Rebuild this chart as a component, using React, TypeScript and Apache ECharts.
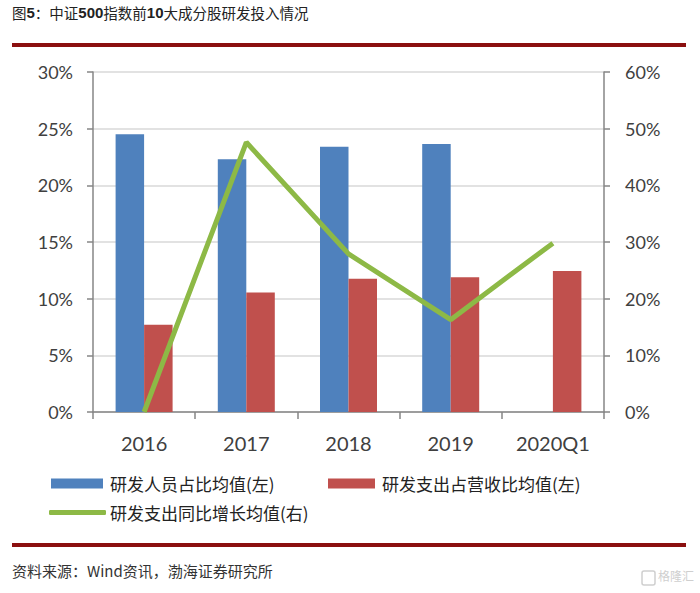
import React, { useEffect, useRef } from "react";
import * as echarts from "echarts";

const categories = ["2016", "2017", "2018", "2019", "2020Q1"];
const staffShare = [24.5, 22.3, 23.4, 23.65, null];
const rdToRevenue = [7.7, 10.55, 11.75, 11.9, 12.45];
const rdGrowth = [0, 47.6, 27.9, 16.3, 29.8];
const seriesNames = ["研发人员占比均值(左)", "研发支出占营收比均值(左)", "研发支出同比增长均值(右)"];
const titleText = "图5：中证500指数前10大成分股研发投入情况";
const sourceText = "资料来源：Wind资讯，渤海证券研究所";

const BLUE = "#4F81BD";
const RED = "#C0504D";
const GREEN = "#8DB946";
const DARKRED = "#8B0F0F";

export default function App() {
  const ref = useRef<HTMLDivElement>(null);
  useEffect(() => {
    if (!ref.current) return;
    const chart = echarts.init(ref.current, undefined, { renderer: "svg" });
    const axisLabel = { color: "#404040", fontFamily: "Lato", fontSize: 18 };
    const parts = titleText.split(/(\d+)/).filter((s) => s.length > 0);
    const richTitle = parts.map((p) => (/^\d+$/.test(p) ? `{b|${p}}` : `{a|${p}}`)).join("");
    chart.setOption({
      animation: false,
      backgroundColor: "#ffffff",
      grid: { left: 93, right: 96, top: 72, bottom: 181, containLabel: false },
      legend: [
        {
          data: [seriesNames[0]], left: 51, top: 475, padding: 0, itemWidth: 52, itemHeight: 10,
          icon: "rect", selectedMode: false,
          textStyle: { fontSize: 17, color: "#222", fontFamily: "Noto Sans CJK SC", padding: [0, 0, 0, 2] },
        },
        {
          data: [seriesNames[1]], left: 328, top: 475, padding: 0, itemWidth: 47, itemHeight: 10,
          icon: "rect", selectedMode: false,
          textStyle: { fontSize: 17, color: "#222", fontFamily: "Noto Sans CJK SC", padding: [0, 0, 0, 2] },
        },
        {
          data: [seriesNames[2]], left: 49, top: 504, padding: 0, itemWidth: 57, itemHeight: 5,
          icon: "roundRect", selectedMode: false,
          textStyle: { fontSize: 17, color: "#222", fontFamily: "Noto Sans CJK SC", padding: [0, 0, 0, -1] },
        },
      ],
      xAxis: {
        type: "category",
        data: categories,
        axisLine: { lineStyle: { color: "#868686", width: 1.5 } },
        axisTick: { show: true, length: 7, lineStyle: { color: "#868686", width: 1.5 } },
        axisLabel: { ...axisLabel, fontSize: 20, margin: 21 },
      },
      yAxis: [
        {
          type: "value", min: 0, max: 30, interval: 5, position: "left",
          axisLine: { show: true, lineStyle: { color: "#868686", width: 1.5 } },
          axisTick: { show: true, length: 6, lineStyle: { color: "#868686", width: 1.5 } },
          axisLabel: { ...axisLabel, margin: 20, formatter: "{value}%" },
          splitLine: { show: true, lineStyle: { color: "#D9D9D9", width: 1.5 } },
        },
        {
          type: "value", min: 0, max: 60, interval: 10, position: "right",
          axisLine: { show: true, lineStyle: { color: "#868686", width: 1.5 } },
          axisTick: { show: true, length: 6, lineStyle: { color: "#868686", width: 1.5 } },
          axisLabel: { ...axisLabel, margin: 21, formatter: "{value}%" },
          splitLine: { show: false },
        },
      ],
      series: [
        {
          name: seriesNames[0], type: "bar", yAxisIndex: 0, data: staffShare,
          barWidth: 28.5, barGap: "0%", itemStyle: { color: BLUE },
        },
        {
          name: seriesNames[1], type: "bar", yAxisIndex: 0, data: rdToRevenue,
          barWidth: 28.5, barGap: "0%", itemStyle: { color: RED },
        },
        {
          name: seriesNames[2], type: "line", yAxisIndex: 1, data: rdGrowth,
          symbol: "none", lineStyle: { color: GREEN, width: 5 }, itemStyle: { color: GREEN },
          z: 5,
        },
      ],
      graphic: [
        {
          type: "text", left: 12, top: 5,
          style: {
            text: richTitle,
            rich: {
              a: { fontSize: 14.5, fontFamily: "Noto Sans CJK SC", fill: "#222" },
              b: { fontSize: 15, fontFamily: "Liberation Sans", fontWeight: "bold", fill: "#222" },
            },
          },
        },
        { type: "rect", shape: { x: 12, y: 43, width: 674, height: 4 }, style: { fill: DARKRED } },
        { type: "rect", shape: { x: 12, y: 543, width: 674, height: 4 }, style: { fill: DARKRED } },
        {
          type: "text", left: 12, top: 563,
          style: { text: sourceText, fontSize: 15, fontFamily: "Noto Sans CJK SC", fill: "#333" },
        },
        {
          type: "rect", shape: { x: 642, y: 571, width: 13, height: 14, r: 2 },
          style: { fill: "none", stroke: "#cfcfcf", lineWidth: 1.5 },
        },
        {
          type: "text", left: 658, top: 569,
          style: { text: "格隆汇", fontSize: 12, fontFamily: "Noto Sans CJK SC", fill: "#cfcfcf" },
        },
      ],
    });
    return () => chart.dispose();
  }, []);
  return (
    <div
      ref={ref}
      style={{ position: "absolute", left: 0, top: 0, width: 700, height: 593, background: "#fff" }}
    />
  );
}
